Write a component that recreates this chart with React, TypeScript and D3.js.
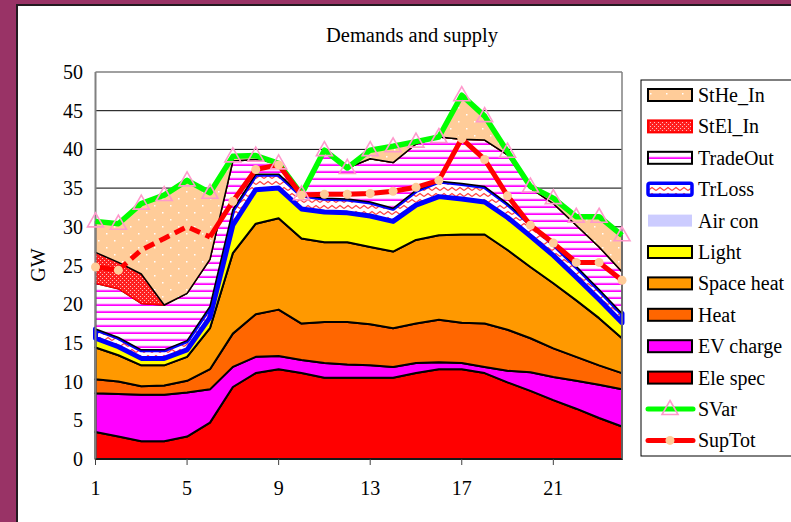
import React from 'react';
import * as d3 from 'd3';

// hours of the day
const hours = [1, 2, 3, 4, 5, 6, 7, 8, 9, 10, 11, 12, 13, 14, 15, 16, 17, 18, 19, 20, 21, 22, 23, 24];

// stacked demand / supply components (GW)
const eleSpec = [3.5, 2.9, 2.3, 2.3, 2.9, 4.7, 9.3, 11.1, 11.6, 11.1, 10.5, 10.5, 10.5, 10.5, 11.1, 11.6, 11.6, 11.1, 9.9, 8.8, 7.6, 6.5, 5.3, 4.2];
const evCharge = [5.0, 5.5, 6.0, 6.0, 5.7, 4.3, 2.6, 2.1, 1.7, 1.7, 1.9, 1.7, 1.6, 1.4, 1.3, 0.9, 0.8, 0.8, 1.5, 2.4, 3.0, 3.6, 4.3, 4.8];
const heat = [1.8, 1.6, 1.1, 1.2, 1.5, 2.6, 4.3, 5.5, 6.0, 4.7, 5.3, 5.5, 5.3, 5.0, 5.1, 5.5, 5.2, 5.6, 5.3, 4.4, 3.7, 3.1, 2.5, 2.1];
const spaceHeat = [4.1, 3.4, 2.7, 2.6, 3.1, 5.3, 10.4, 11.7, 11.8, 11.0, 10.3, 10.3, 10.0, 9.9, 10.8, 10.9, 11.4, 11.5, 10.3, 9.2, 8.4, 7.3, 6.1, 4.5];
const light = [1.2, 1.1, 0.9, 0.9, 0.9, 1.4, 3.6, 4.4, 3.9, 3.8, 3.9, 3.8, 4.0, 3.9, 4.5, 5.0, 4.6, 4.2, 4.2, 4.0, 3.6, 3.0, 2.4, 2.0];
const airCon = [0, 0, 0, 0, 0, 0, 0, 0, 0, 0, 0, 0, 0, 0, 0, 0, 0, 0, 0, 0, 0, 0, 0, 0];
const trLoss = [1.2, 1.2, 1.1, 1.1, 1.2, 1.4, 2.0, 2.0, 1.8, 1.8, 1.8, 1.8, 1.8, 1.7, 1.9, 2.0, 2.0, 2.0, 1.8, 1.6, 1.5, 1.4, 1.3, 1.2];
const tradeOut = [5.9, 6.3, 6.0, 5.8, 6.1, 6.1, 6.3, 1.9, 1.4, 0.1, 6.2, 4.0, 5.6, 5.9, 6.0, 5.7, 5.7, 6.0, 6.3, 4.6, 5.2, 5.3, 5.5, 5.4];
const stElIn = [4.0, 3.4, 3.8, 0, 0, 0, 0, 0, 0, 0, 0, 0, 0, 0, 0, 0, 0, 0, 0, 0, 0, 0, 0, 0];
const stHeIn = [4.0, 4.9, 9.1, 14.2, 14.6, 8.6, 0.6, 0.5, 0, 0, 0, 0, 1.1, 2.1, 0.3, 0, 5.7, 3.1, 0.4, 0.2, 0.7, 1.1, 3.9, 4.7];

// line series
const sVar = [30.7, 30.4, 33.0, 34.1, 36.0, 34.4, 39.1, 39.2, 38.2, 34.2, 39.9, 37.6, 39.9, 40.4, 41.0, 41.6, 47.0, 44.3, 39.7, 35.2, 33.7, 31.3, 31.3, 28.9];
const supTot = [24.8, 24.4, 27.0, 28.5, 30.0, 28.7, 33.3, 37.4, 38.0, 34.1, 34.2, 34.2, 34.3, 34.6, 35.1, 36.0, 41.4, 38.7, 34.0, 30.2, 27.9, 25.4, 25.4, 23.1];

const xTicks = [1, 5, 9, 13, 17, 21];
const yTicks = [0, 5, 10, 15, 20, 25, 30, 35, 40, 45, 50];

const seriesKeys = ['Ele spec', 'EV charge', 'Heat', 'Space heat', 'Light', 'Air con', 'TrLoss', 'TradeOut', 'StEl_In', 'StHe_In'];
const seriesValues = [eleSpec, evCharge, heat, spaceHeat, light, airCon, trLoss, tradeOut, stElIn, stHeIn];

const areaStyle: Record<string, { fill: string; stroke: string; sw: number }> = {
  'Ele spec': { fill: '#ff0000', stroke: '#000', sw: 2 },
  'EV charge': { fill: '#ff00ff', stroke: '#000', sw: 2 },
  'Heat': { fill: '#ff6600', stroke: '#000', sw: 2 },
  'Space heat': { fill: '#ff9900', stroke: '#000', sw: 2 },
  'Light': { fill: '#ffff00', stroke: '#000', sw: 2 },
  'Air con': { fill: '#ccccff', stroke: 'none', sw: 0 },
  'TrLoss': { fill: 'url(#zig)', stroke: '#0000ff', sw: 5 },
  'TradeOut': { fill: 'url(#stripes)', stroke: '#000', sw: 1.5 },
  'StEl_In': { fill: 'url(#check)', stroke: '#ff0000', sw: 1.5 },
  'StHe_In': { fill: 'url(#dots)', stroke: '#000', sw: 1.5 },
};

const FONT = '"Liberation Serif", "Times New Roman", serif';

const triPath = 'M0,-8.5L8,5.5L-8,5.5Z';

export default function App() {
  const x = d3.scaleLinear().domain([1, 24]).range([95.5, 622]);
  const y = d3.scaleLinear().domain([0, 50]).range([459, 72]);

  const rows = hours.map((h, i) => {
    const r: any = { hour: h };
    seriesKeys.forEach((k, j) => { r[k] = seriesValues[j][i]; });
    return r;
  });
  const stacked = d3.stack<any>().keys(seriesKeys)(rows);

  const area = d3.area<any>()
    .x(d => x(d.data.hour))
    .y0(d => y(d[0]))
    .y1(d => y(d[1]));

  const line = d3.line<number>().x((_, i) => x(hours[i])).y(d => y(d));

  // SupTot: dashed between hour 2 and 6
  const supSolidA = line(supTot.slice(0, 2));
  const supDashed = d3.line<number>().x((_, i) => x(hours[i + 1])).y(d => y(d))(supTot.slice(1, 6));
  const supSolidB = d3.line<number>().x((_, i) => x(hours[i + 5])).y(d => y(d))(supTot.slice(5));

  const legendItems = ['StHe_In', 'StEl_In', 'TradeOut', 'TrLoss', 'Air con', 'Light', 'Space heat', 'Heat', 'EV charge', 'Ele spec', 'SVar', 'SupTot'];
  const legY = (k: number) => 95 + k * 31.4;

  return (
    <svg width={791} height={522} style={{ position: 'absolute', left: 0, top: 0, display: 'block' }} fontFamily={FONT}>
      <defs>
        <pattern id="dots" width="16" height="14" patternUnits="userSpaceOnUse">
          <rect width="16" height="14" fill="#ffcc99" />
          <rect x="2" y="2" width="1.5" height="1.5" fill="#fff" />
          <rect x="10" y="9" width="1.5" height="1.5" fill="#fff" />
        </pattern>
        <pattern id="check" width="4" height="4" patternUnits="userSpaceOnUse">
          <rect width="4" height="4" fill="#ff2020" />
          <rect x="0" y="0" width="1" height="1" fill="#ffc0c0" />
          <rect x="2" y="2" width="1" height="1" fill="#ffc0c0" />
        </pattern>
        <pattern id="stripes" width="8" height="7" patternUnits="userSpaceOnUse">
          <rect width="8" height="7" fill="#fff" />
          <rect y="2.5" width="8" height="0.8" fill="#ffaaff" />
          <rect y="3.3" width="8" height="1.7" fill="#ff00ff" />
        </pattern>
        <pattern id="zig" width="8" height="6" patternUnits="userSpaceOnUse">
          <rect width="8" height="6" fill="#fff" />
          <polyline points="0,4.5 4,1.5 8,4.5" fill="none" stroke="#ff4040" strokeWidth="1.2" />
        </pattern>
      </defs>

      {/* background */}
      <rect x={0} y={0} width={791} height={522} fill="#993366" />
      <rect x={17} y={5} width={800} height={600} fill="#fff" stroke="#231a20" strokeWidth={2} />

      <text x={412} y={42} textAnchor="middle" fontSize={20.5}>Demands and supply</text>

      {/* gridlines */}
      {yTicks.filter(t => t > 0 && t < 50).map(t => (
        <line key={t} x1={x(1)} x2={x(24)} y1={y(t)} y2={y(t)} stroke="#000" strokeWidth={1} />
      ))}

      {/* stacked areas */}
      {stacked.map(s => {
        const st = areaStyle[s.key];
        return (
          <path key={s.key} d={area(s) || ''} fill={st.fill} stroke={st.stroke}
            strokeWidth={st.sw} strokeLinejoin="round" />
        );
      })}

      {/* plot border and axes */}
      <line x1={x(1)} x2={x(24)} y1={y(50)} y2={y(50)} stroke="#808080" strokeWidth={1.5} />
      <line x1={x(24)} x2={x(24)} y1={y(50)} y2={y(0)} stroke="#808080" strokeWidth={1.5} />
      <line x1={x(1)} x2={x(1)} y1={y(50)} y2={y(0)} stroke="#808080" strokeWidth={2} />
      <line x1={x(1)} x2={x(24)} y1={y(0)} y2={y(0)} stroke="#202020" strokeWidth={1.5} />
      {xTicks.map(t => (
        <g key={t}>
          <line x1={x(t)} x2={x(t)} y1={y(0)} y2={y(0) + 6} stroke="#404040" strokeWidth={1} />
          <text x={x(t)} y={495} textAnchor="middle" fontSize={20}>{t}</text>
        </g>
      ))}
      {yTicks.map(t => (
        <text key={t} x={83} y={y(t) + 7} textAnchor="end" fontSize={20}>{t}</text>
      ))}
      <text transform="translate(45,265) rotate(-90)" textAnchor="middle" fontSize={20}>GW</text>

      {/* lines */}
      <path d={line(sVar) || ''} fill="none" stroke="#00ff00" strokeWidth={5.5} strokeLinejoin="round" />
      <path d={supSolidA || ''} fill="none" stroke="#ff0000" strokeWidth={5} strokeLinejoin="round" />
      <path d={supDashed || ''} fill="none" stroke="#ff0000" strokeWidth={5} strokeDasharray="11 6" />
      <path d={supSolidB || ''} fill="none" stroke="#ff0000" strokeWidth={5} strokeLinejoin="round" />
      {sVar.map((v, i) => (
        <path key={i} d={triPath} transform={`translate(${x(hours[i])},${y(v)})`}
          fill="none" stroke="#ff99cc" strokeWidth={1.6} />
      ))}
      {supTot.map((v, i) => (i >= 2 && i <= 5 ? null : (
        <circle key={i} cx={x(hours[i])} cy={y(v)} r={4.5} fill="#ffcc99" />
      )))}

      {/* legend */}
      <rect x={641} y={80} width={200} height={376} fill="#fff" stroke="#000" strokeWidth={1} />
      {legendItems.map((name, k) => {
        const cy = legY(k);
        let sw: React.ReactNode;
        if (name === 'SVar') {
          sw = (
            <g>
              <line x1={648} x2={693} y1={cy} y2={cy} stroke="#00ff00" strokeWidth={5} strokeLinecap="round" />
              <path d={triPath} transform={`translate(670,${cy})`} fill="none" stroke="#ff99cc" strokeWidth={1.6} />
            </g>
          );
        } else if (name === 'SupTot') {
          sw = (
            <g>
              <line x1={648} x2={693} y1={cy} y2={cy} stroke="#ff0000" strokeWidth={5} strokeLinecap="round" />
              <circle cx={670} cy={cy} r={4.5} fill="#ffcc99" />
            </g>
          );
        } else {
          const st = areaStyle[name];
          sw = (
            <rect x={648} y={cy - 6} width={44} height={12} fill={st.fill}
              stroke={st.stroke} strokeWidth={name === 'TrLoss' ? 3.5 : (st.sw ? 2 : 0)}
              rx={name === 'TrLoss' ? 2 : 0} />
          );
        }
        return (
          <g key={name}>
            {sw}
            <text x={698} y={cy + 7} fontSize={20}>{name}</text>
          </g>
        );
      })}
    </svg>
  );
}
